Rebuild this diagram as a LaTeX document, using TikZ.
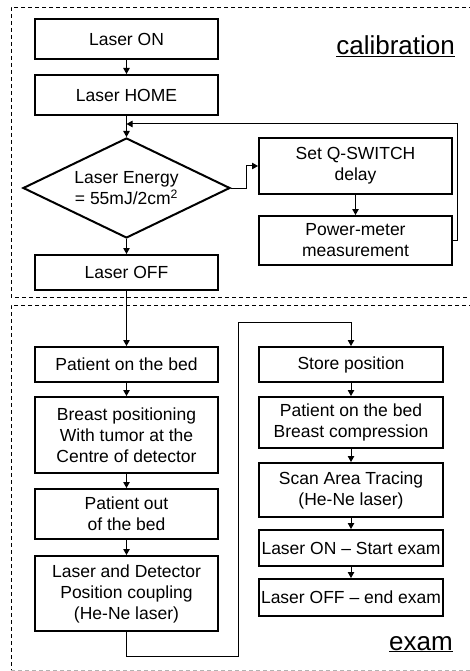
\documentclass[tikz,border=0pt]{standalone}
\usepackage{fontspec}
\setmainfont{Liberation Sans}
\usetikzlibrary{arrows.meta,shapes.geometric}
\begin{document}
\begin{tikzpicture}[x=1pt,y=-1pt,
  box/.style={draw,line width=2pt,inner sep=0pt,align=center,font=\fontsize{17.5}{21}\selectfont},
  dia/.style={draw,line width=2pt,diamond,inner sep=0pt,align=center,font=\fontsize{17.5}{21}\selectfont,minimum width=207pt,minimum height=100pt,shape aspect=2.07},
  conn/.style={line width=1pt,-{Triangle[length=6pt,width=6.5pt]}},
  region/.style={dash pattern=on 4pt off 3pt,line width=0.9pt},
  tag/.style={font=\fontsize{26}{30}\selectfont,inner sep=0pt,anchor=base east}]
\useasboundingbox (0,0) rectangle (469,671);
% dashed regions
\draw[region] (480,7) -- (11,7) -- (11,297) -- (480,297);
\draw[region] (480,305) -- (11,305) -- (11,670);
\draw[region,gray!60] (11,670) -- (480,670);
\node[tag] (cal) at (455,55) {\underline{calibration}};
\node[tag] (ex) at (453,650) {\underline{exam}};
% calibration
\node[box,minimum width=183pt,minimum height=40pt] (on) at (126.5,39) {Laser ON};
\node[box,minimum width=183pt,minimum height=40pt] (home) at (126.5,95) {Laser HOME};
\node[dia] (en) at (126.5,188) {Laser Energy\\= 55mJ/2cm\textsuperscript{2}};
\node[box,minimum width=183pt,minimum height=35pt] (off) at (126.5,272.5) {Laser OFF};
\node[box,minimum width=193pt,minimum height=56pt] (qs) at (355.5,166) {Set Q-SWITCH\\delay};
\node[box,minimum width=193pt,minimum height=49pt] (pm) at (355.5,240.5) {Power-meter\\measurement};
\coordinate (j) at (126.5,124);
\coordinate (lr) at (457.5,124);
\draw[conn] (on) -- (home);
\draw[conn] (home) -- (en.north);
\draw[conn] (en.south) -- (off);
\draw[conn] (en.east) -- ++(15,0) |- (qs.west);
\draw[conn] (qs) -- (pm);
\draw[conn] (pm.east) -| (lr) -- (j);
% exam left
\node[box,minimum width=183pt,minimum height=35pt] (bed) at (126.5,364.5) {Patient on the bed};
\node[box,minimum width=183pt,minimum height=76pt] (br) at (126.5,435) {Breast positioning\\With tumor at the\\Centre of detector};
\node[box,minimum width=183pt,minimum height=50pt] (out) at (126.5,514) {Patient out\\of the bed};
\node[box,minimum width=183pt,minimum height=75pt] (cp) at (126.5,593.5) {Laser and Detector\\Position coupling\\(He-Ne laser)};
\draw[conn] (off) -- (bed);
\draw[conn] (bed) -- (br);
\draw[conn] (br) -- (out);
\draw[conn] (out) -- (cp);
% exam right
\node[box,minimum width=184pt,minimum height=35pt] (st) at (351,364.5) {Store position};
\node[box,minimum width=184pt,minimum height=51pt] (bc) at (351,422.5) {Patient on the bed\\Breast compression};
\node[box,minimum width=184pt,minimum height=54pt] (sc) at (351,490) {Scan Area Tracing\\(He-Ne laser)};
\node[box,minimum width=184pt,minimum height=36pt] (se) at (351,548) {Laser ON -- Start exam};
\node[box,minimum width=184pt,minimum height=37pt] (ee) at (351,597.5) {Laser OFF -- end exam};
\coordinate (b1) at (126.5,656);
\coordinate (b2) at (238,656);
\coordinate (b3) at (238,322);
\draw[conn] (cp.south) -- (b1) -- (b2) -- (b3) -| (st.north);
\draw[conn] (st) -- (bc);
\draw[conn] (bc) -- (sc);
\draw[conn] (sc) -- (se);
\draw[conn] (se) -- (ee);
\end{tikzpicture}
\end{document}
